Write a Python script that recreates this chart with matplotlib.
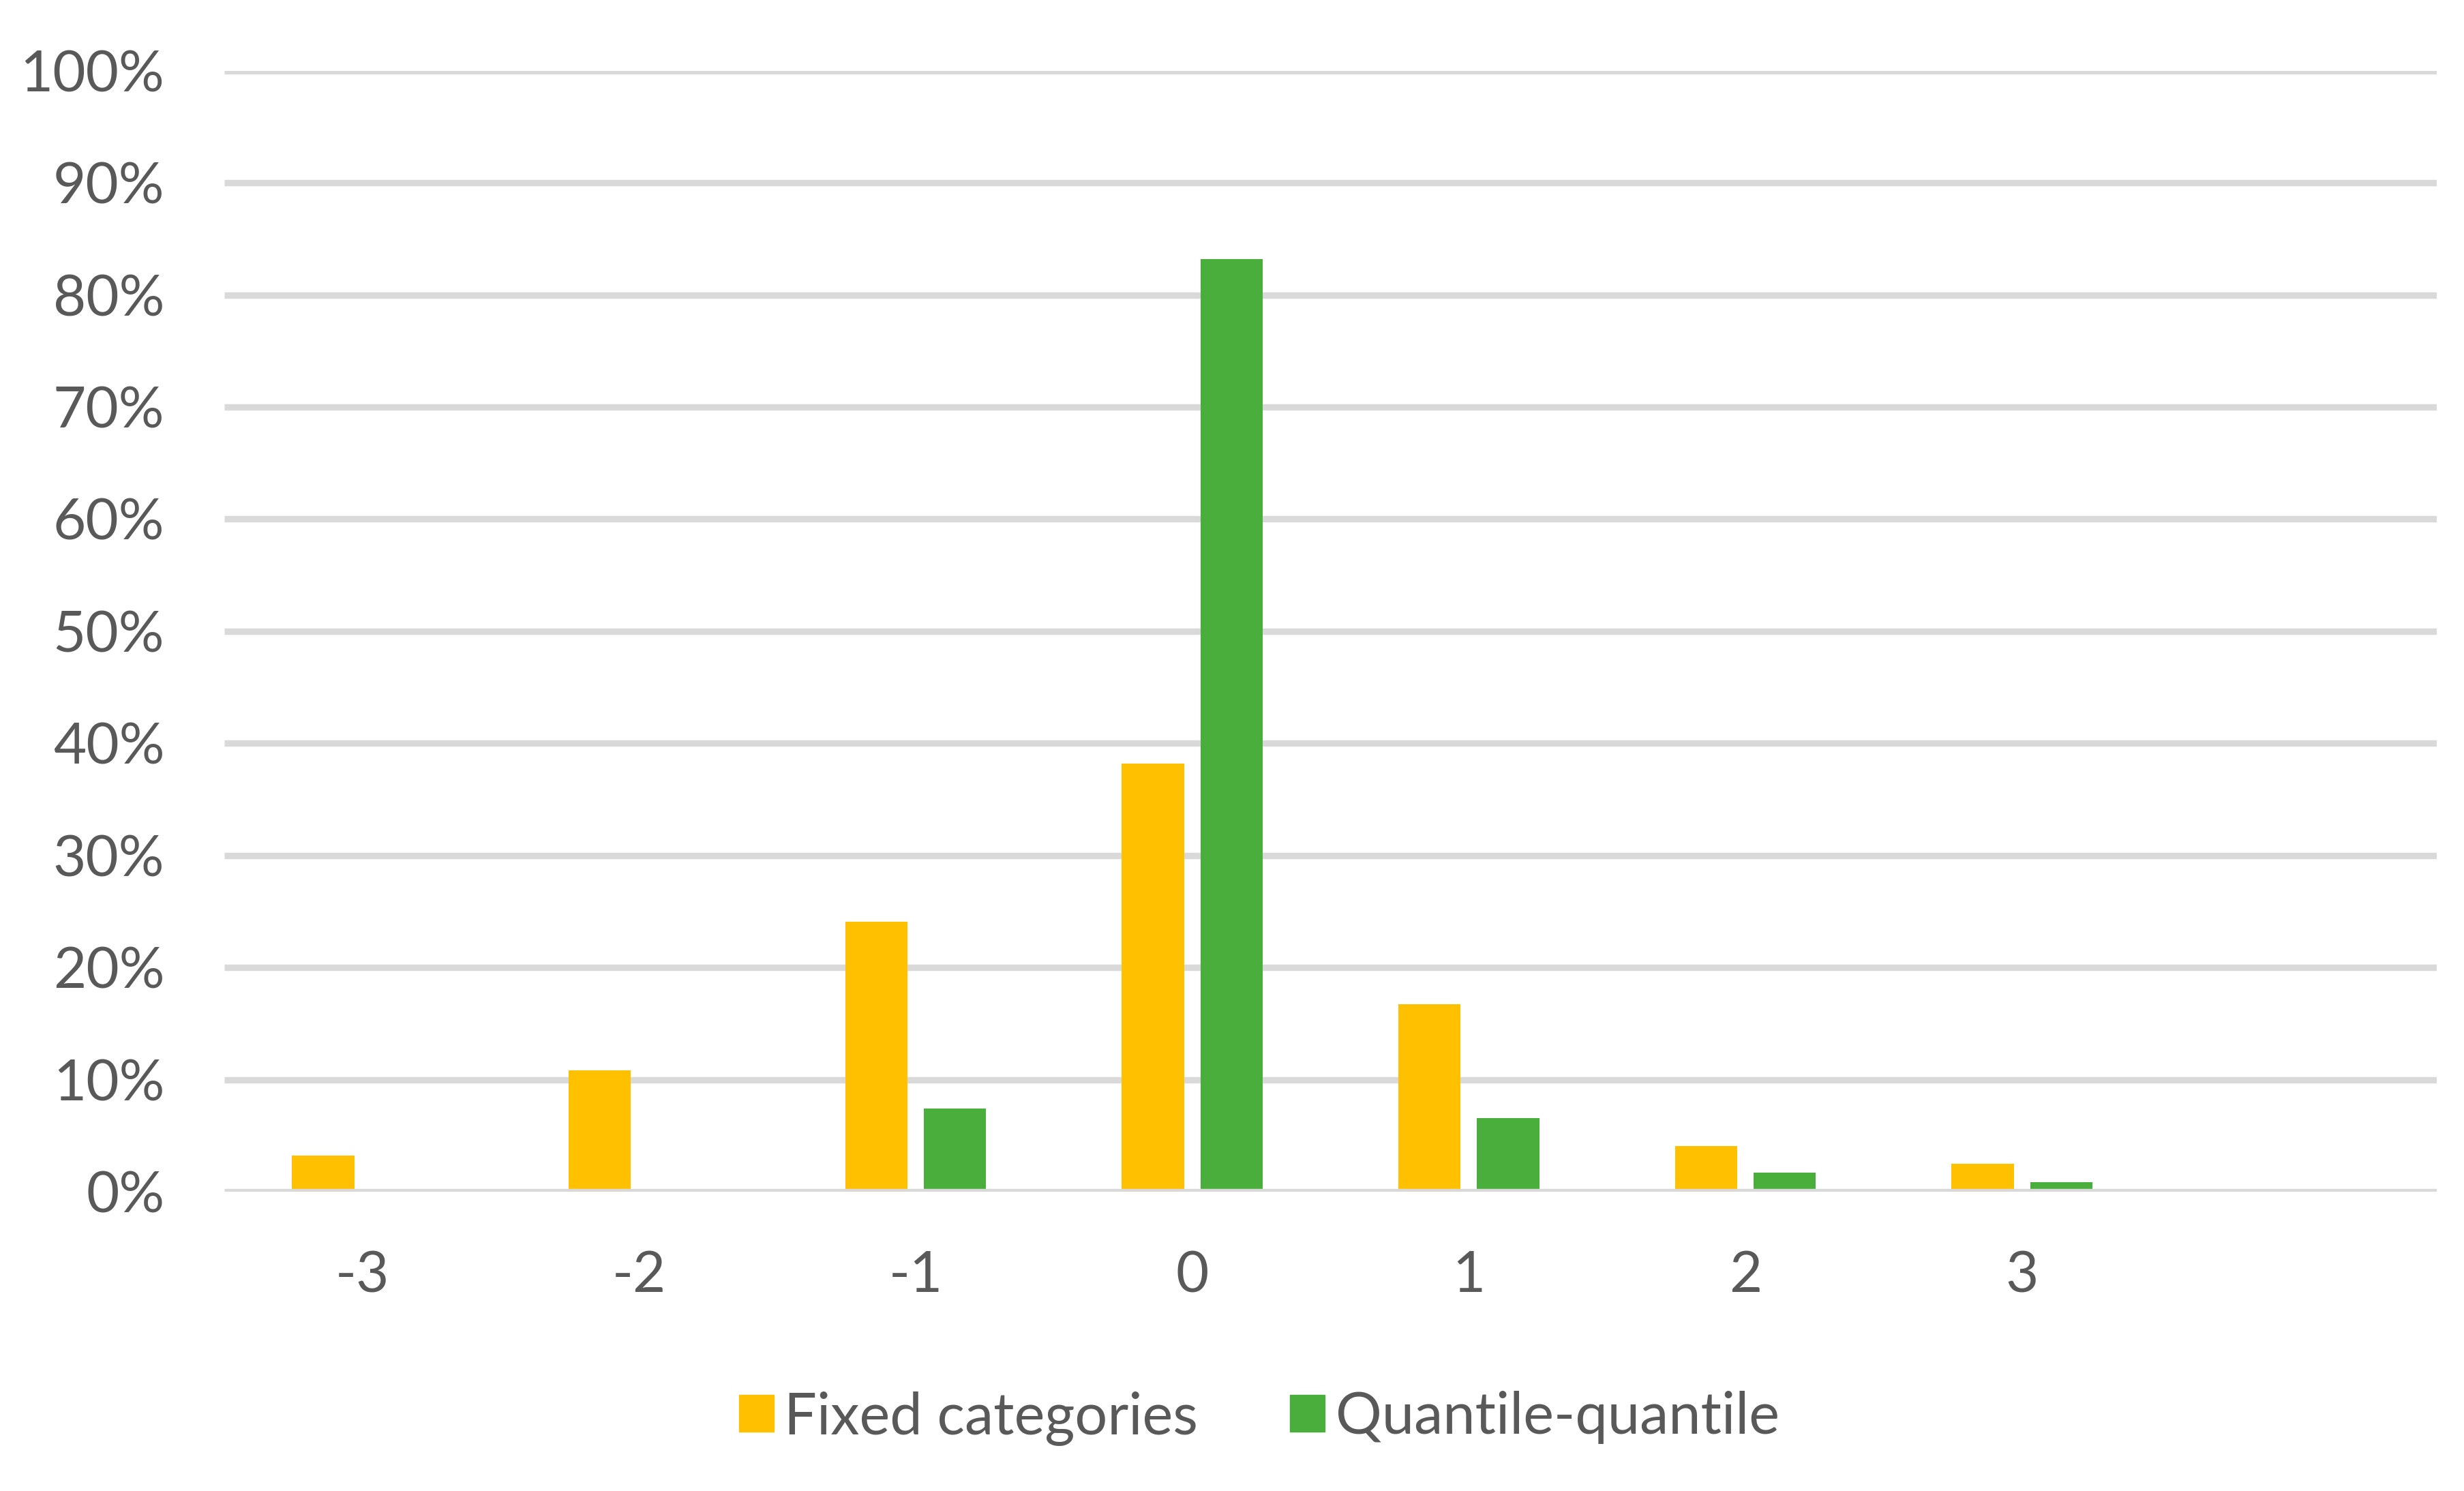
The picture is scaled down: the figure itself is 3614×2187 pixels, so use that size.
import matplotlib
matplotlib.use('Agg')
import matplotlib.pyplot as plt
from matplotlib.patches import Patch
from matplotlib.ticker import PercentFormatter
import numpy as np

# Values (percent)
categories = ['-3', '-2', '-1', '0', '1', '2', '3']
fixed_categories = [3.25, 10.8, 24.1, 38.2, 16.7, 4.1, 2.5]
quantile_quantile = [0.0, 0.0, 7.4, 83.2, 6.6, 1.7, 0.85]
series_names = ['Fixed categories', 'Quantile-quantile']
yticks = [0, 10, 20, 30, 40, 50, 60, 70, 80, 90, 100]

YELLOW = '#FFC000'
GREEN = '#49AE3B'
GRID = '#D9D9D9'
TEXT = '#595959'

plt.rcParams['font.family'] = ['Lato', 'DejaVu Sans']

fig = plt.figure(figsize=(36.14, 21.87), dpi=100)
ax = fig.add_axes([0.0910, 0.2007, 0.8980, 0.7519])

x = np.arange(len(categories))
w = 0.225
off = 0.142
ax.bar(x - off, fixed_categories, w, color=YELLOW, linewidth=0, zorder=2)
ax.bar(x + off, quantile_quantile, w, color=GREEN, linewidth=0, zorder=2)

# Excel leaves one empty slot on the right of the category axis
ax.set_xlim(-0.5, len(categories) + 0.5)
ax.set_ylim(0, 100)

ax.set_yticks(yticks)
ax.yaxis.set_major_formatter(PercentFormatter(decimals=0))
ax.set_xticks(x)
ax.set_xticklabels(categories)

for y in yticks:
    ax.axhline(y, color=GRID, linewidth=6.8, zorder=1 if y else 3,
               solid_capstyle='butt')

for s in ax.spines.values():
    s.set_visible(False)
ax.tick_params(axis='both', length=0, labelsize=60, colors=TEXT)
ax.tick_params(axis='y', pad=63)
ax.tick_params(axis='x', pad=62)

handles = [Patch(color=YELLOW), Patch(color=GREEN)]
fig.legend(handles, series_names, loc='center', bbox_to_anchor=(0.511, 0.049),
           ncol=2, frameon=False, fontsize=61, labelcolor=TEXT,
           handlelength=0.6, handleheight=0.6, handletextpad=0.18,
           columnspacing=1.6)

fig.savefig('out.png', dpi=100, facecolor='white')
